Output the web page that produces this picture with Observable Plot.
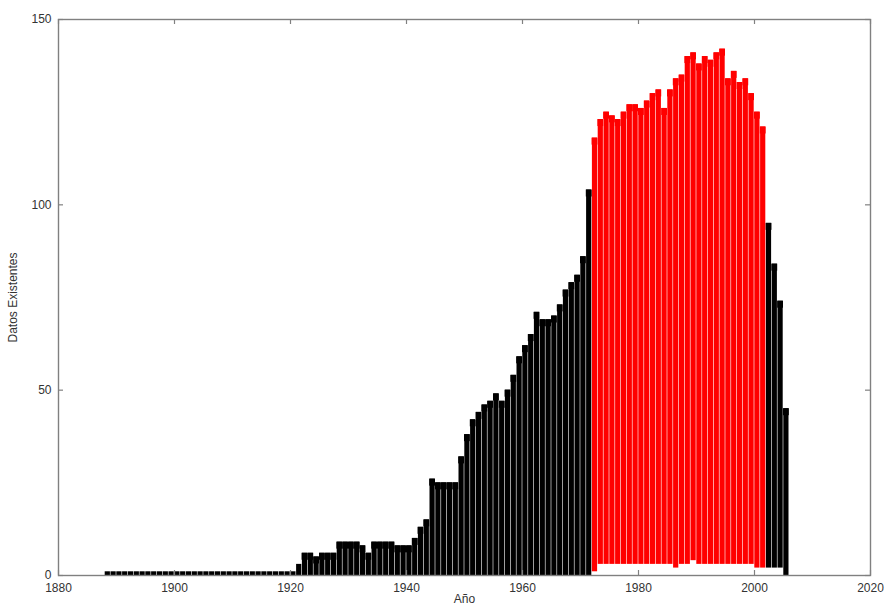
<!DOCTYPE html>
<html>
<head>
<meta charset="utf-8">
<script src="https://cdn.jsdelivr.net/npm/d3@7"></script>
<script src="https://cdn.jsdelivr.net/npm/@observablehq/plot@0.6"></script>
<style>
  html, body { margin: 0; padding: 0; background: #ffffff; }
  #grafico { width: 890px; height: 608px; overflow: hidden; }
</style>
</head>
<body>
<div id="grafico"></div>
<script>
// Años con registro (1888–2005)
const anios = d3.range(1888, 2006);

// Número máximo de datos existentes en cada año
const maximos = [
  // 1888–1920
  1, 1, 1, 1, 1, 1, 1, 1, 1, 1, 1, 1, 1, 1, 1, 1, 1,
  1, 1, 1, 1, 1, 1, 1, 1, 1, 1, 1, 1, 1, 1, 1, 1,
  // 1921–1930
  3, 6, 6, 5, 6, 6, 6, 9, 9, 9,
  // 1931–1940
  9, 8, 6, 9, 9, 9, 9, 8, 8, 8,
  // 1941–1950
  10, 13, 15, 26, 25, 25, 25, 25, 32, 38,
  // 1951–1960
  42, 44, 46, 47, 49, 47, 50, 54, 59, 62,
  // 1961–1971
  65, 71, 69, 69, 70, 73, 77, 79, 81, 86, 104,
  // 1972–1981
  118, 123, 125, 124, 123, 125, 127, 127, 126, 128,
  // 1982–1991
  130, 131, 126, 131, 134, 135, 140, 141, 138, 140,
  // 1992–2001
  139, 141, 142, 134, 136, 133, 134, 130, 125, 121,
  // 2002–2005
  95, 84, 74, 45
];

// Número mínimo de datos existentes en cada año
const minimos = [
  // 1888–1971
  0, 0, 0, 0, 0, 0, 0, 0, 0, 0, 0, 0, 0, 0, 0, 0, 0, 0, 0, 0, 0,
  0, 0, 0, 0, 0, 0, 0, 0, 0, 0, 0, 0, 0, 0, 0, 0, 0, 0, 0, 0, 0,
  0, 0, 0, 0, 0, 0, 0, 0, 0, 0, 0, 0, 0, 0, 0, 0, 0, 0, 0, 0, 0,
  0, 0, 0, 0, 0, 0, 0, 0, 0, 0, 0, 0, 0, 0, 0, 0, 0, 0, 0, 0, 0,
  // 1972–1981
  1, 3, 3, 3, 3, 3, 3, 3, 3, 3,
  // 1982–1991
  3, 3, 3, 3, 2, 3, 3, 4, 3, 3,
  // 1992–2001
  3, 3, 3, 3, 3, 3, 3, 3, 2, 2,
  // 2002–2005
  2, 2, 2, 0
];

// Periodo de referencia resaltado en rojo
const inicioReferencia = 1972;
const finReferencia = 2001;

// Marcas de los ejes
const ticksX = [1880, 1900, 1920, 1940, 1960, 1980, 2000, 2020];
const ticksY = [0, 50, 100, 150];

const datos = anios.map((anio, i) => ({
  anio,
  fin: anio + 1,
  maximo: maximos[i],
  minimo: minimos[i],
  referencia: anio >= inicioReferencia && anio <= finReferencia
}));

const enReferencia = datos.filter(d => d.referencia);
const fueraReferencia = datos.filter(d => !d.referencia);

// Dimensiones del área de trazado
const ancho = 890, alto = 608;
const margen = { izq: 58, der: 20, sup: 19, inf: 33 };
const anchoMarco = ancho - margen.izq - margen.der;
const altoMarco = alto - margen.sup - margen.inf;
const largoTick = 5;
const gris = "#808080";

function barras(serie, color) {
  return [
    // columnas anuales, separadas por una línea muy fina
    Plot.rectY(serie, {
      x1: "anio", x2: "fin", y1: "minimo", y2: "maximo",
      fill: color, insetLeft: 0.3, insetRight: 0.3
    }),
    // borde superior continuo
    Plot.rectY(serie.filter(d => d.maximo >= 5), {
      x1: "anio", x2: "fin", y1: "maximo", y2: "maximo",
      fill: color, insetBottom: -7, clip: true
    })
  ];
}

const grafico = Plot.plot({
  width: ancho,
  height: alto,
  marginLeft: margen.izq,
  marginRight: margen.der,
  marginTop: margen.sup,
  marginBottom: margen.inf,
  style: {
    fontFamily: "'Liberation Sans', Arial, sans-serif",
    fontSize: "12px",
    color: "#333333",
    background: "#ffffff"
  },
  x: { domain: [1880, 2020], label: null },
  y: { domain: [0, 150], label: null },
  marks: [
    ...barras(fueraReferencia, "#000000"),
    ...barras(enReferencia, "#ff0000"),
    Plot.frame({ stroke: gris, strokeWidth: 1.4 }),
    // marcas hacia el interior en los cuatro lados
    Plot.tickX(ticksX, { x: d => d, insetTop: altoMarco - largoTick, stroke: gris, strokeWidth: 1.2 }),
    Plot.tickX(ticksX, { x: d => d, insetBottom: altoMarco - largoTick, stroke: gris, strokeWidth: 1.2 }),
    Plot.tickY(ticksY, { y: d => d, insetRight: anchoMarco - largoTick, stroke: gris, strokeWidth: 1.2 }),
    Plot.tickY(ticksY, { y: d => d, insetLeft: anchoMarco - largoTick, stroke: gris, strokeWidth: 1.2 }),
    // etiquetas de los ejes
    Plot.axisX(ticksX, { anchor: "bottom", tickSize: 0, tickPadding: 8, tickFormat: d => String(d), label: null }),
    Plot.axisY(ticksY, { anchor: "left", tickSize: 0, tickPadding: 7, label: null }),
    Plot.text(["Datos Existentes"], { frameAnchor: "left", textAnchor: "middle", dx: -45, rotate: -90, text: d => d, fontSize: 12 }),
    Plot.text(["Año"], { frameAnchor: "bottom", dy: 19, lineAnchor: "top", text: d => d, fontSize: 12 })
  ]
});

document.getElementById("grafico").appendChild(grafico);
</script>
</body>
</html>
